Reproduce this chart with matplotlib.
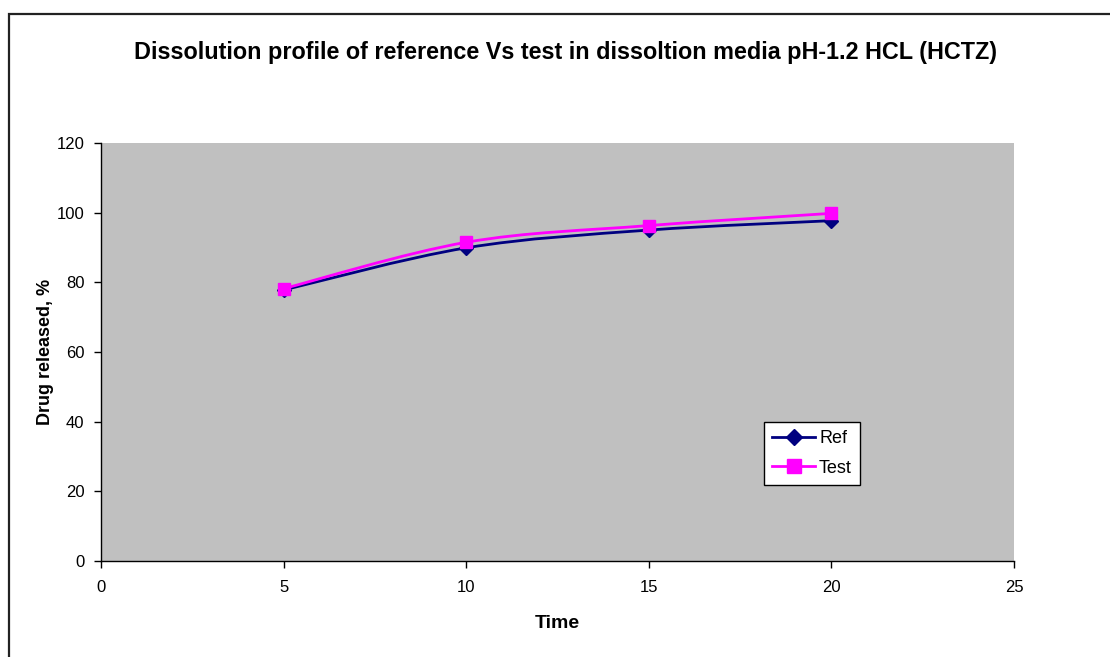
import matplotlib
matplotlib.use("Agg")
import matplotlib.pyplot as plt
from matplotlib.path import Path
from matplotlib.patches import PathPatch, Rectangle
from matplotlib.lines import Line2D
import numpy as np

plt.rcParams['font.family'] = ['Liberation Sans', 'DejaVu Sans']

time = [5, 10, 15, 20]
ref = [77.8, 89.9, 95.0, 97.7]
test = [78.2, 91.5, 96.3, 99.8]

title = "Dissolution profile of reference Vs test in dissoltion media pH-1.2 HCL (HCTZ)"
xticks = [0, 5, 10, 15, 20, 25]
yticks = [0, 20, 40, 60, 80, 100, 120]

fig = plt.figure(figsize=(11.1, 6.57), dpi=100)
ax = fig.add_axes([101/1110, 1-561/657, (1014-101)/1110, (561-143)/657])
ax.set_facecolor('#C0C0C0')

# outer chart frame
fig.patches.append(Rectangle((9/1110, -0.05), 1.2, 1-14/657+0.05, transform=fig.transFigure,
                             fill=False, edgecolor='#222222', linewidth=1.6))


def smooth_path(xs, ys):
    pts = np.column_stack([xs, ys]).astype(float)
    n = len(pts)
    verts = [pts[0]]
    codes = [Path.MOVETO]
    for i in range(n - 1):
        p0 = pts[i - 1] if i > 0 else pts[i]
        p1 = pts[i]
        p2 = pts[i + 1]
        p3 = pts[i + 2] if i + 2 < n else pts[i + 1]
        c1 = p1 + (p2 - p0) / 6
        c2 = p2 - (p3 - p1) / 6
        verts += [c1, c2, p2]
        codes += [Path.CURVE4] * 3
    return Path(verts, codes)


ref_color = '#000080'
test_color = '#FF00FF'
ax.add_patch(PathPatch(smooth_path(time, ref), fill=False, edgecolor=ref_color, linewidth=2, zorder=3))
ax.plot(time, ref, linestyle='none', marker='D', markersize=7, color=ref_color, zorder=4)
ax.add_patch(PathPatch(smooth_path(time, test), fill=False, edgecolor=test_color, linewidth=2, zorder=5))
ax.plot(time, test, linestyle='none', marker='s', markersize=9, color=test_color, zorder=6)

ax.set_xlim(0, 25)
ax.set_ylim(0, 120)
ax.set_xticks(xticks)
ax.set_yticks(yticks)
ax.tick_params(axis='both', labelsize=12, direction='out', length=5, width=1, color='black')
ax.tick_params(axis='x', pad=9)
ax.tick_params(axis='y', pad=7)
for s in ['top', 'right']:
    ax.spines[s].set_visible(False)
for s in ['left', 'bottom']:
    ax.spines[s].set_color('black')
    ax.spines[s].set_linewidth(1)

ax.set_xlabel('Time', fontsize=14, fontweight='bold')
ax.xaxis.set_label_coords(0.5, -(623-561)/418)
ax.xaxis.label.set_va('center')
ax.set_ylabel('Drug released, %', fontsize=13, fontweight='bold')
ax.yaxis.set_label_coords(-(101-46)/913, 0.5)
ax.yaxis.label.set_va('center')
fig.text(566/1110, 1-52/657, title, ha='center', va='center', fontsize=16.8, fontweight='bold')

handles = [
    Line2D([0], [0], color=ref_color, linewidth=2, marker='D', markersize=8),
    Line2D([0], [0], color=test_color, linewidth=2, marker='s', markersize=10),
]
leg = ax.legend(handles, ['Ref', 'Test'], loc='upper left', bbox_to_anchor=((764-101)/913, (561-422)/418),
                fontsize=13, frameon=True, fancybox=False, edgecolor='black', facecolor='white',
                framealpha=1, borderpad=0.45, handlelength=2.4, handletextpad=0.2, labelspacing=0.7,
                borderaxespad=0)
leg.get_frame().set_linewidth(1)

fig.savefig('out.png', dpi=100)
